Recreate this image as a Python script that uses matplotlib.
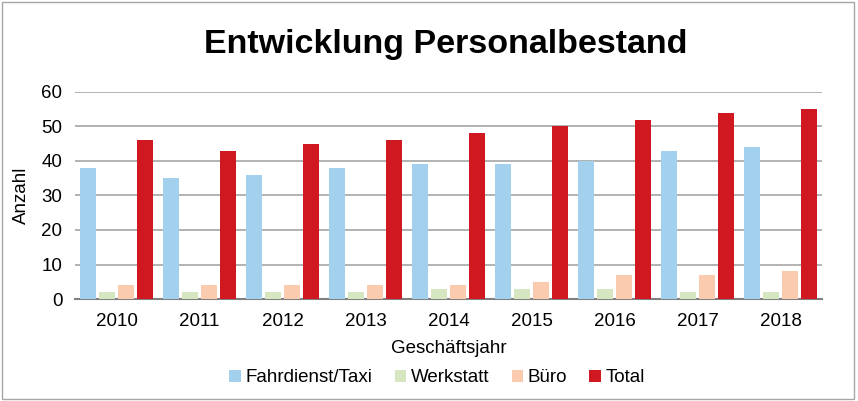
import numpy as np
import matplotlib.pyplot as plt
from matplotlib.patches import Rectangle

plt.rcParams['font.family'] = ['Liberation Sans', 'DejaVu Sans']

years = ['2010', '2011', '2012', '2013', '2014', '2015', '2016', '2017', '2018']
fahrdienst = [38, 35, 36, 38, 39, 39, 40, 43, 44]
werkstatt = [2, 2, 2, 2, 3, 3, 3, 2, 2]
buero = [4, 4, 4, 4, 4, 5, 7, 7, 8]
total = [46, 43, 45, 46, 48, 50, 52, 54, 55]

series = [('Fahrdienst/Taxi', fahrdienst, '#A3D0EC'),
          ('Werkstatt', werkstatt, '#D5E6C0'),
          ('Büro', buero, '#FBCBB0'),
          ('Total', total, '#CF1820')]

fig = plt.figure(figsize=(8.58, 4.01), dpi=100)
ax = fig.add_axes([75/858, 1-299/401, 747/858, 207/401])

x = np.arange(len(years))
w = 0.185
step = 0.23
for i, (name, vals, col) in enumerate(series):
    ax.bar(x + (i - 1.5) * step, vals, w, color=col, label=name, zorder=3)

ax.set_xlim(-0.5, len(years) - 0.5)
ax.set_ylim(0, 60)
ax.set_yticks(range(0, 61, 10))
ax.set_xticks(x)
ax.set_xticklabels(years)
ax.tick_params(axis='both', labelsize=13.5, length=0)
ax.tick_params(axis='x', pad=10)
ax.tick_params(axis='y', pad=9)
ax.yaxis.grid(True, color='#A6A6A6', linewidth=1.2, zorder=0)
for s in ['top', 'right', 'left']:
    ax.spines[s].set_visible(False)
ax.spines['bottom'].set_color('#808080')
ax.spines['bottom'].set_linewidth(1.5)
ax.set_xlabel('Geschäftsjahr', fontsize=13.5, labelpad=7)
ax.set_ylabel('Anzahl', fontsize=13.5, labelpad=8)

fig.text(446/858, 1-45/401, 'Entwicklung Personalbestand', fontsize=24.5,
         fontweight='bold', ha='center', va='center')

leg = fig.legend(loc='center', bbox_to_anchor=(437/858, 1-378/401), ncol=4,
                 frameon=False, fontsize=13.5, handlelength=0.6, handleheight=0.6,
                 handletextpad=0.25, columnspacing=1.2)

fig.patches.append(Rectangle((2/858, 2/401), 852/858, 397/401, transform=fig.transFigure,
                             fill=False, edgecolor='#A6A6A6', linewidth=1))

fig.savefig('out.png', dpi=100)
